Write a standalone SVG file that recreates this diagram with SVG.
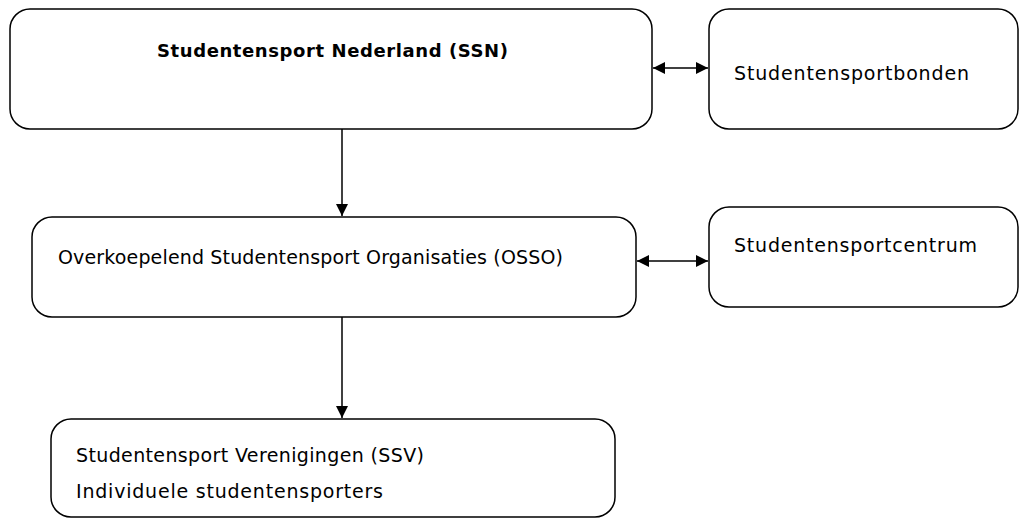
<svg xmlns="http://www.w3.org/2000/svg" width="1019" height="518" viewBox="0 0 1019 518">
<style>
.box{fill:#fff;stroke:#000;stroke-width:1.5}
.t{font-family:"DejaVu Sans",sans-serif;font-size:19px;fill:#000}
.b{font-weight:bold;font-size:18px}
.c{stroke:#000;stroke-width:1.5;fill:none}
</style>
<defs>
<marker id="ah" viewBox="0 0 12 12" refX="12" refY="6" markerWidth="12" markerHeight="12" markerUnits="userSpaceOnUse" orient="auto-start-reverse"><path d="M0,0 L12,6 L0,12 z" fill="#000"/></marker>
</defs>
<rect width="1019" height="518" fill="#fff"/>
<g id="connectors">
<line class="c" x1="342" y1="129" x2="342" y2="216" marker-end="url(#ah)"/>
<line class="c" x1="342" y1="317" x2="342" y2="418" marker-end="url(#ah)"/>
<line class="c" x1="653" y1="68" x2="708" y2="68" marker-start="url(#ah)" marker-end="url(#ah)"/>
<line class="c" x1="637" y1="261" x2="708" y2="261" marker-start="url(#ah)" marker-end="url(#ah)"/>
</g>
<g id="ssn">
<rect class="box" x="10" y="9" width="642" height="120" rx="20"/>
<text class="t b" x="157" y="57" textLength="351" lengthAdjust="spacing">Studentensport Nederland (SSN)</text>
</g>
<g id="bonden">
<rect class="box" x="709" y="9" width="309" height="120" rx="20"/>
<text class="t" x="734" y="80" textLength="235" lengthAdjust="spacing">Studentensportbonden</text>
</g>
<g id="osso">
<rect class="box" x="32" y="217" width="604" height="100" rx="20"/>
<text class="t" x="58" y="264" textLength="505" lengthAdjust="spacing">Overkoepelend Studentensport Organisaties (OSSO)</text>
</g>
<g id="centrum">
<rect class="box" x="709" y="207" width="309" height="100" rx="20"/>
<text class="t" x="734" y="252" textLength="243" lengthAdjust="spacing">Studentensportcentrum</text>
</g>
<g id="ssv">
<rect class="box" x="51" y="419" width="564" height="98" rx="20"/>
<text class="t" x="76" y="462" textLength="348" lengthAdjust="spacing">Studentensport Verenigingen (SSV)</text>
<text class="t" x="76" y="498" textLength="307" lengthAdjust="spacing">Individuele studentensporters</text>
</g>
</svg>
